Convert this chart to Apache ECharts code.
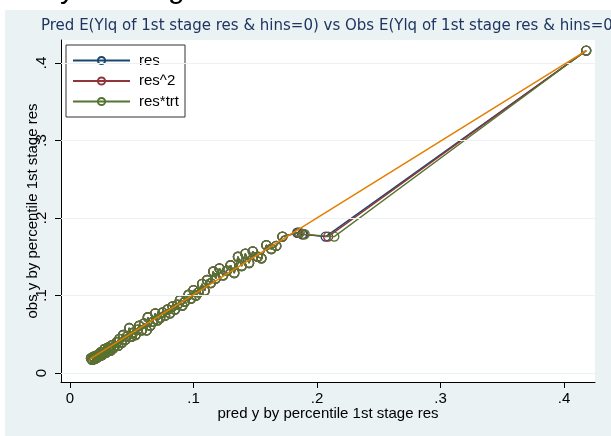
<!DOCTYPE html>
<html>
<head>
<meta charset="utf-8">
<script src="https://cdn.jsdelivr.net/npm/echarts@6/dist/echarts.min.js"></script>
<style>
  html, body { margin: 0; padding: 0; background: #fff; }
  #chart { width: 611px; height: 436px; }
</style>
</head>
<body>
<div id="chart"></div>
<script>
// predicted y by percentile (shared part of the cloud)
var predX = [0.017,0.018,0.019,0.020,0.021,0.022,0.023,0.024,0.025,0.026,
    0.027,0.028,0.029,0.030,0.031,0.032,0.033,0.034,0.035,0.036,
    0.038,0.039,0.040,0.042,0.043,0.045,0.046,0.048,0.050,0.051,
    0.053,0.055,0.056,0.058,0.060,0.062,0.063,0.065,0.067,0.069,
    0.071,0.073,0.075,0.077,0.079,0.081,0.083,0.085,0.087,0.089,
    0.091,0.093,0.096,0.098,0.100,0.102,0.104,0.107,0.109,0.111,
    0.114,0.116,0.118,0.121,0.124,0.127,0.130,0.133,0.136,0.139,
    0.142,0.145,0.148,0.152,0.155,0.159,0.163,0.167,0.172];
// tail of each model (they split apart a little at the top end)
var tailRes    = [0.184,0.188,0.207,0.418];
var tailRes2   = [0.185,0.189,0.209,0.418];
var tailResTrt = [0.186,0.190,0.214,0.418];
// observed y by percentile
var obsY = [0.019,0.017,0.021,0.018,0.022,0.020,0.024,0.022,0.027,0.023,
    0.025,0.031,0.026,0.028,0.033,0.030,0.029,0.036,0.032,0.034,
    0.040,0.035,0.044,0.039,0.049,0.043,0.047,0.058,0.047,0.052,
    0.049,0.056,0.061,0.055,0.064,0.055,0.072,0.061,0.066,0.077,
    0.068,0.071,0.078,0.074,0.082,0.077,0.086,0.082,0.088,0.094,
    0.087,0.092,0.101,0.096,0.107,0.100,0.104,0.115,0.106,0.120,
    0.116,0.131,0.122,0.135,0.126,0.132,0.139,0.129,0.150,0.138,
    0.154,0.142,0.157,0.150,0.148,0.165,0.160,0.164,0.176,
    0.181,0.179,0.176,0.416];
// orange reference line end points
var refX = [0.016,0.418];
var refY = [0.018,0.416];

var seriesNames = ['res','res^2','res*trt'];
var seriesColors = ['#1A476F','#90353B','#55752F'];
var tickVals = [0,0.1,0.2,0.3,0.4];

function pairs(xs, ys){
    var out = [];
    for (var i = 0; i < xs.length; i++) out.push([xs[i], ys[i]]);
    return out;
}
function fmt(v){
    return v === 0 ? '0' : String(Math.round(v*10)/10).replace(/^0/, '');
}

var myChart = echarts.init(document.getElementById('chart'), null, {renderer: 'canvas'});
var tails = [tailRes, tailRes2, tailResTrt];
var series = [];

// light horizontal grid lines
series.push({
    name: 'grid', type: 'line', data: [], z: 0, silent: true,
    markLine: {
        silent: true, symbol: 'none', label: {show: false},
        lineStyle: {color: '#EAF2F3', width: 1.2, type: 'solid'},
        data: tickVals.map(function(v){ return {yAxis: v}; })
    }
});

for (var s = 0; s < 3; s++) {
    series.push({
        name: seriesNames[s],
        type: 'line',
        data: pairs(predX.concat(tails[s]), obsY),
        symbol: 'circle',
        symbolSize: 9,
        showAllSymbol: true,
        itemStyle: {color: 'rgba(255,255,255,0)', borderColor: seriesColors[s], borderWidth: 1.4},
        lineStyle: {color: seriesColors[s], width: 1.3},
        emphasis: {disabled: true},
        z: 2 + s
    });
}
series.push({
    name: 'fit', type: 'line', data: pairs(refX, refY),
    symbol: 'none', lineStyle: {color: '#E37E00', width: 1.5}, z: 6
});

var option = {
    backgroundColor: '#fff',
    animation: false,
    graphic: [
        {type: 'rect', shape: {x: 5, y: 10, width: 620, height: 440}, style: {fill: '#EAF2F3'}, z: -10},
        // bits of a cropped heading above the figure
        {type: 'text', x: 60, y: -25, style: {text: 'y', font: '30px Liberation Sans', fill: '#000'}, z: -20},
        {type: 'text', x: 168, y: -25, style: {text: 'g', font: '30px Liberation Sans', fill: '#000'}, z: -20}
    ],
    title: {
        text: 'Pred E(Ylq of 1st stage res & hins=0) vs Obs E(Ylq of 1st stage res & hins=0)',
        left: 41, top: 19, padding: 0,
        textStyle: {fontFamily: 'DejaVu Sans', fontSize: 15, fontWeight: 'normal', color: '#1E3561'}
    },
    legend: {
        data: seriesNames,
        orient: 'vertical',
        left: 66, top: 45,
        padding: [8, 6, 8, 6],
        itemGap: 5.5,
        itemWidth: 57,
        itemHeight: 9,
        backgroundColor: '#fff',
        borderColor: '#333',
        borderWidth: 1,
        borderRadius: 0,
        textStyle: {fontFamily: 'Liberation Sans', fontSize: 15, color: '#000', padding: [2, 0, 0, 4]}
    },
    grid: {
        left: 61, top: 40, right: 16, bottom: 54,
        show: true, backgroundColor: '#fff', borderWidth: 0
    },
    xAxis: {
        type: 'value',
        min: -0.00729, max: 0.4251,
        name: 'pred y by percentile 1st stage res',
        nameLocation: 'middle', nameGap: 24, nameMoveOverlap: false,
        nameTextStyle: {fontFamily: 'Liberation Sans', fontSize: 15, color: '#000'},
        axisLine: {show: true, onZero: false, lineStyle: {color: '#000', width: 1}},
        axisTick: {show: true, length: 6, customValues: tickVals, lineStyle: {color: '#000'}},
        axisLabel: {customValues: tickVals, formatter: fmt, margin: 9,
            fontFamily: 'Liberation Sans', fontSize: 15, color: '#000'},
        splitLine: {show: false}
    },
    yAxis: {
        type: 'value',
        min: -0.01161, max: 0.42968,
        name: 'obs y by percentile 1st stage res',
        nameLocation: 'middle', nameGap: 21, nameMoveOverlap: false,
        nameTextStyle: {fontFamily: 'Liberation Sans', fontSize: 15, color: '#000'},
        axisLine: {show: true, onZero: false, lineStyle: {color: '#000', width: 1}},
        axisTick: {show: true, length: 6, customValues: tickVals, lineStyle: {color: '#000'}},
        axisLabel: {customValues: tickVals, formatter: fmt, rotate: 90, margin: 12,
            fontFamily: 'Liberation Sans', fontSize: 15, color: '#000'},
        splitLine: {show: false}
    },
    series: series
};
myChart.setOption(option);
</script>
</body>
</html>
